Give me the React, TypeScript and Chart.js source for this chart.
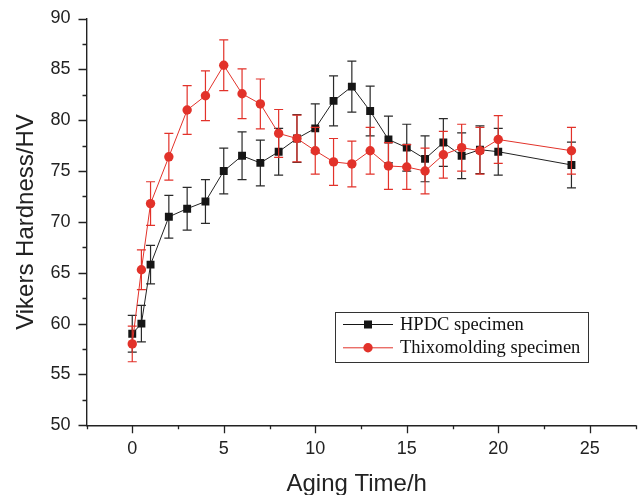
import React, { useEffect, useRef } from "react";
import { Chart, registerables } from "chart.js";

Chart.register(...registerables);

// ---- data ----
const agingTimes = [0, 0.5, 1, 2, 3, 4, 5, 6, 7, 8, 9, 10, 11, 12, 13, 14, 15, 16, 17, 18, 19, 20, 24];
const hpdcValues = [59.0, 60.0, 65.8, 70.5, 71.3, 72.0, 75.0, 76.5, 75.8, 76.9, 78.2, 79.2, 81.9, 83.3, 80.9, 78.1, 77.3, 76.2, 77.8, 76.5, 77.1, 76.9, 75.6];
const hpdcErrors = [1.8, 1.8, 1.9, 2.1, 2.1, 2.15, 2.25, 2.35, 2.25, 2.3, 2.35, 2.4, 2.45, 2.5, 2.45, 2.3, 2.3, 2.25, 2.35, 2.25, 2.35, 2.3, 2.25];
const thixoValues = [58.0, 65.3, 71.8, 76.4, 81.0, 82.4, 85.4, 82.6, 81.6, 78.7, 78.2, 77.0, 75.9, 75.7, 77.0, 75.5, 75.4, 75.0, 76.6, 77.3, 77.0, 78.1, 77.0];
const thixoErrors = [1.75, 1.95, 2.15, 2.3, 2.4, 2.45, 2.5, 2.45, 2.45, 2.35, 2.3, 2.3, 2.3, 2.25, 2.3, 2.3, 2.2, 2.25, 2.3, 2.3, 2.3, 2.35, 2.3];

const seriesNames = ["HPDC specimen", "Thixomolding specimen"];
const xTitle = "Aging Time/h";
const yTitle = "Vikers Hardness/HV";
const xRange = [-2.5, 27.5];
const yRange = [50, 90];
const minorStep = 2.5;
const majorStep = 5;

const BLACK = "#161616";
const RED = "#e2322a";
const TEXT = "#222222";
const SANS = "'Liberation Sans', Arial, sans-serif";
const SERIF = "'Liberation Serif', 'Times New Roman', serif";

const isMajor = (v: number) => Math.abs(v / majorStep - Math.round(v / majorStep)) < 1e-6;

const makeTicks = (min: number, max: number) => {
  const out: { value: number }[] = [];
  for (let v = min; v <= max + 1e-9; v += minorStep) out.push({ value: Math.round(v * 100) / 100 });
  return out;
};

const errorBarPlugin = {
  id: "errorBars",
  beforeDatasetDraw(chart: any, args: any) {
    const ds = chart.data.datasets[args.index];
    const errs: number[] = ds.errors;
    if (!errs) return;
    const { ctx, scales } = chart;
    const xs = scales.x;
    const ys = scales.y;
    ctx.save();
    ctx.strokeStyle = ds.errorColor;
    ctx.lineWidth = 1.2;
    ds.data.forEach((p: any, i: number) => {
      const x = xs.getPixelForValue(p.x);
      const yt = ys.getPixelForValue(p.y + errs[i]);
      const yb = ys.getPixelForValue(p.y - errs[i]);
      ctx.beginPath();
      ctx.moveTo(x, yt);
      ctx.lineTo(x, yb);
      ctx.moveTo(x - 4.5, yt);
      ctx.lineTo(x + 4.5, yt);
      ctx.moveTo(x - 4.5, yb);
      ctx.lineTo(x + 4.5, yb);
      ctx.stroke();
    });
    ctx.restore();
  },
};

const decorPlugin = {
  id: "decor",
  afterDraw(chart: any) {
    const { ctx, scales, chartArea } = chart;
    const xs = scales.x;
    const ys = scales.y;
    ctx.save();
    // tick marks
    ctx.strokeStyle = TEXT;
    ctx.lineWidth = 1.3;
    ctx.beginPath();
    xs.ticks.forEach((t: any) => {
      const x = Math.round(xs.getPixelForValue(t.value)) + 0.5;
      const len = isMajor(t.value) ? 8 : 4;
      ctx.moveTo(x, chartArea.bottom);
      ctx.lineTo(x, chartArea.bottom + len);
    });
    ys.ticks.forEach((t: any) => {
      const y = Math.round(ys.getPixelForValue(t.value)) + 0.5;
      const len = isMajor(t.value) ? 8 : 4;
      ctx.moveTo(chartArea.left, y);
      ctx.lineTo(chartArea.left - len, y);
    });
    ctx.stroke();

    // axis titles
    ctx.fillStyle = TEXT;
    ctx.font = `24px ${SANS}`;
    ctx.textAlign = "center";
    ctx.textBaseline = "alphabetic";
    ctx.fillText(xTitle, 356.7, 491);
    ctx.save();
    ctx.translate(33, 222);
    ctx.rotate(-Math.PI / 2);
    ctx.fillText(yTitle, 0, 0);
    ctx.restore();

    // legend
    const bx = 335.5, by = 312.5, bw = 253, bh = 50;
    ctx.strokeStyle = "#333";
    ctx.lineWidth = 1;
    ctx.strokeRect(bx, by, bw, bh);
    const rows = [
      { y: 324.5, base: 329.5, color: BLACK, shape: "rect" },
      { y: 347.8, base: 353, color: RED, shape: "circle" },
    ];
    rows.forEach((r, i) => {
      ctx.strokeStyle = r.color;
      ctx.lineWidth = 1;
      ctx.beginPath();
      ctx.moveTo(343, r.y);
      ctx.lineTo(393, r.y);
      ctx.stroke();
      ctx.fillStyle = r.color;
      if (r.shape === "rect") {
        ctx.fillRect(368 - 4, r.y - 4, 8, 8);
      } else {
        ctx.beginPath();
        ctx.arc(368, r.y, 4.7, 0, Math.PI * 2);
        ctx.fill();
      }
      ctx.fillStyle = "#111";
      ctx.font = `18.5px ${SERIF}`;
      ctx.textAlign = "left";
      ctx.textBaseline = "alphabetic";
      ctx.fillText(seriesNames[i], 400, r.base);
    });
    ctx.restore();
  },
};

export default function App() {
  const canvasRef = useRef<HTMLCanvasElement | null>(null);

  useEffect(() => {
    const canvas = canvasRef.current;
    if (!canvas) return;
    const chart = new Chart(canvas, {
      type: "line",
      data: {
        datasets: [
          {
            label: seriesNames[0],
            data: agingTimes.map((t, i) => ({ x: t, y: hpdcValues[i] })),
            borderColor: "#222",
            backgroundColor: BLACK,
            borderWidth: 1,
            pointStyle: "rect",
            pointRadius: 5.6,
            pointBorderWidth: 0,
            pointBackgroundColor: BLACK,
            order: 2,
            errors: hpdcErrors,
            errorColor: "#2a2a2a",
          } as any,
          {
            label: seriesNames[1],
            data: agingTimes.map((t, i) => ({ x: t, y: thixoValues[i] })),
            borderColor: RED,
            backgroundColor: RED,
            borderWidth: 1,
            pointStyle: "circle",
            pointRadius: 4.7,
            pointBorderWidth: 0,
            pointBackgroundColor: RED,
            order: 1,
            errors: thixoErrors,
            errorColor: RED,
          } as any,
        ],
      },
      options: {
        responsive: false,
        animation: false,
        devicePixelRatio: 1,
        layout: { autoPadding: false, padding: { left: 0, right: 2.5, top: 18.5, bottom: 0 } },
        plugins: { legend: { display: false }, tooltip: { enabled: false } },
        scales: {
          x: {
            type: "linear",
            min: xRange[0],
            max: xRange[1],
            afterBuildTicks: (s: any) => {
              s.ticks = makeTicks(xRange[0], xRange[1]);
            },
            afterFit: (s: any) => {
              s.height = 495 - 425.3;
              s.paddingLeft = 0;
              s.paddingRight = 0;
              s.paddingTop = 0;
              s.paddingBottom = 0;
            },
            grid: { display: false, drawTicks: false },
            border: { display: true, color: TEXT, width: 1.4 },
            ticks: {
              autoSkip: false,
              maxRotation: 0,
              padding: 13,
              color: TEXT,
              font: { family: SANS, size: 18 },
              callback: (v: any) => (isMajor(Number(v)) ? String(v) : ""),
            },
          },
          y: {
            type: "linear",
            min: yRange[0],
            max: yRange[1],
            afterBuildTicks: (s: any) => {
              s.ticks = makeTicks(yRange[0], yRange[1]);
            },
            afterFit: (s: any) => {
              s.width = 86.5;
              s.paddingLeft = 0;
              s.paddingRight = 0;
              s.paddingTop = 0;
              s.paddingBottom = 0;
            },
            grid: { display: false, drawTicks: false },
            border: { display: true, color: TEXT, width: 1.4 },
            ticks: {
              autoSkip: false,
              padding: 16,
              color: TEXT,
              font: { family: SANS, size: 18 },
              callback: (v: any) => (isMajor(Number(v)) ? String(v) : ""),
            },
          },
        },
      } as any,
      plugins: [errorBarPlugin, decorPlugin],
    });
    return () => chart.destroy();
  }, []);

  return (
    <div style={{ position: "absolute", left: 0, top: 0, width: 638, height: 495, background: "#fff" }}>
      <canvas ref={canvasRef} width={638} height={495} style={{ display: "block" }} />
    </div>
  );
}
